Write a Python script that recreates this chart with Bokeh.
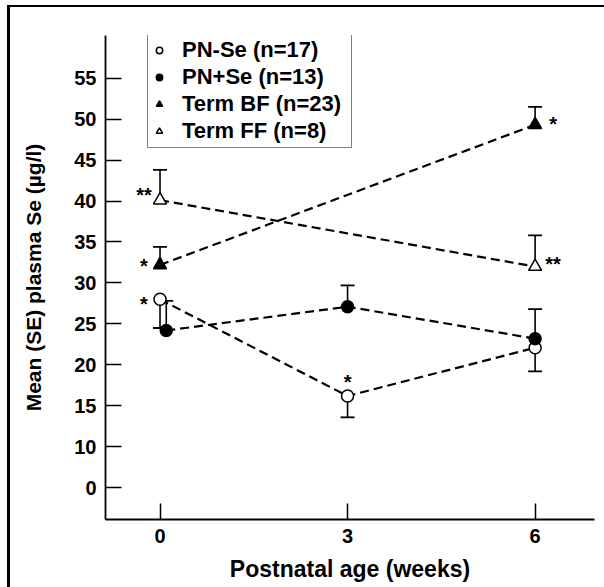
from bokeh.plotting import figure
from bokeh.models import Range1d, Legend, LegendItem, FixedTicker
from bokeh.core.properties import value
from bokeh.embed import file_html
from bokeh.resources import INLINE

# ---- data ----
weeks = [0, 3, 6]
term_weeks = [0, 6]

pn_minus_mean = [28.0, 16.2, 22.1]
pn_minus_se = [3.5, 2.6, 2.9]          # drawn downward
pn_plus_mean = [24.2, 27.1, 23.2]
pn_plus_se = [3.6, 2.6, 3.6]           # drawn upward
term_bf_mean = [32.2, 49.3]
term_bf_se = [2.2, 2.2]                # drawn upward
term_ff_mean = [40.1, 32.0]
term_ff_se = [3.7, 3.8]                # drawn upward

series_labels = ["PN-Se (n=17)", "PN+Se (n=13)", "Term BF (n=23)", "Term FF (n=8)"]

x_tick_values = [0, 3, 6]
y_tick_values = [5, 10, 15, 20, 25, 30, 35, 40, 45, 50, 55]
y_tick_labels = ["0", "10", "15", "20", "25", "30", "35", "40", "45", "50", "55"]

# significance marks: (series, point index, mark)
sig_marks = [("pn_minus", 0, "*"), ("pn_minus", 1, "*"),
             ("term_bf", 0, "*"), ("term_bf", 1, "*"),
             ("term_ff", 0, "**"), ("term_ff", 1, "**")]

FONT = "Liberation Sans"
DODGE = 0.1  # PN+Se at week 0 drawn slightly right

p = figure(width=597, height=582,
           x_range=Range1d(-0.872, 6.95), y_range=Range1d(1.13, 60.2),
           output_backend="svg", toolbar_location=None,
           min_border_left=98, min_border_right=10,
           min_border_top=30, min_border_bottom=68)
p.margin = (5, 0, 0, 7)
p.styles = {"box-shadow": "inset 3px 2px 0 0 black"}
p.outline_line_color = None
p.xgrid.visible = False
p.ygrid.visible = False
p.background_fill_alpha = 0
p.border_fill_alpha = 0

for ax in (p.xaxis[0], p.yaxis[0]):
    ax.axis_line_color = "black"
    ax.axis_line_width = 1.8
    ax.major_tick_line_color = "black"
    ax.major_tick_line_width = 1.5
    ax.major_tick_in = 16
    ax.major_tick_out = 0
    ax.minor_tick_line_color = None
    ax.major_label_text_font = FONT
    ax.major_label_text_font_style = "bold"
    ax.major_label_text_font_size = "20px"
    ax.major_label_text_color = "black"
    ax.axis_label_text_font = FONT
    ax.axis_label_text_font_style = "bold"
    ax.axis_label_text_color = "black"

p.xaxis.ticker = FixedTicker(ticks=x_tick_values)
p.yaxis.ticker = FixedTicker(ticks=y_tick_values)
p.yaxis.major_label_overrides = {v: l for v, l in zip(y_tick_values, y_tick_labels)}
p.xaxis.axis_label = "Postnatal age (weeks)"
p.yaxis.axis_label = "Mean (SE) plasma Se (\u00b5g/l)"
p.xaxis.axis_label_text_font_size = "23px"
p.yaxis.axis_label_text_font_size = "21px"
p.xaxis.major_label_standoff = 9
p.yaxis.major_label_standoff = 9
p.xaxis.axis_label_standoff = 10
p.yaxis.axis_label_standoff = 26

pn_plus_x = [w + (DODGE if w == 0 else 0) for w in weeks]


def errbar(xs, ys, errs, sign):
    ends = [y + sign * e for y, e in zip(ys, errs)]
    p.segment(x0=xs, y0=ys, x1=xs, y1=ends, line_color="black", line_width=1.6)
    p.scatter(x=xs, y=ends, marker="dash", size=14, line_color="black", line_width=1.8)


errbar(weeks, pn_minus_mean, pn_minus_se, -1)
errbar(pn_plus_x, pn_plus_mean, pn_plus_se, +1)
errbar(term_weeks, term_bf_mean, term_bf_se, +1)
errbar(term_weeks, term_ff_mean, term_ff_se, +1)

dash_kw = dict(line_color="black", line_width=2.2, line_dash="9 5")
p.line(weeks, pn_minus_mean, **dash_kw)
p.line(pn_plus_x, pn_plus_mean, **dash_kw)
p.line(term_weeks, term_bf_mean, **dash_kw)
p.line(term_weeks, term_ff_mean, **dash_kw)

r_pm = p.scatter(weeks, pn_minus_mean, marker="circle", size=12,
                 fill_color="white", line_color="black", line_width=1.5)
r_pp = p.scatter(pn_plus_x, pn_plus_mean, marker="circle", size=12,
                 fill_color="black", line_color="black", line_width=1.5)
r_bf = p.scatter(term_weeks, term_bf_mean, marker="triangle", size=13,
                 fill_color="black", line_color="black", line_width=1.5)
r_ff = p.scatter(term_weeks, term_ff_mean, marker="triangle", size=13,
                 fill_color="white", line_color="black", line_width=1.5)

# significance asterisks placed next to their data points
series_xy = {"pn_minus": (weeks, pn_minus_mean),
             "term_bf": (term_weeks, term_bf_mean),
             "term_ff": (term_weeks, term_ff_mean)}
# screen offsets (x, y centre) per (series, index)
offsets = {("pn_minus", 0): (-16, 2), ("pn_minus", 1): (0, -17),
           ("term_bf", 0): (-16, -1), ("term_bf", 1): (18, -3),
           ("term_ff", 0): (-16, -8), ("term_ff", 1): (18, -5)}
ASTER_SHIFT = 2.5
for s, i, mark in sig_marks:
    xs, ys = series_xy[s]
    dx, dy = offsets[(s, i)]
    p.text(x=[xs[i]], y=[ys[i]], text=[mark], x_offset=dx, y_offset=dy + ASTER_SHIFT,
           text_align="center", text_baseline="alphabetic",
           text_font=value(FONT), text_font_style="bold", text_font_size="20px",
           text_color="black")

legend = Legend(items=[LegendItem(label=series_labels[0], renderers=[r_pm]),
                       LegendItem(label=series_labels[1], renderers=[r_pp]),
                       LegendItem(label=series_labels[2], renderers=[r_bf]),
                       LegendItem(label=series_labels[3], renderers=[r_ff])],
                location=(42, 371))
legend.border_line_color = "black"
legend.border_line_width = 1.5
legend.padding = 3
legend.spacing = 1
legend.margin = 0
legend.glyph_width = 16
legend.glyph_height = 20
legend.label_height = 20
legend.label_width = 166
legend.label_standoff = 15
legend.label_text_font = FONT
legend.label_text_font_style = "bold"
legend.label_text_font_size = "22px"
legend.label_text_color = "black"
legend.background_fill_color = "white"
legend.background_fill_alpha = 1.0
p.add_layout(legend)

open("out.html", "w").write(file_html(p, INLINE))
